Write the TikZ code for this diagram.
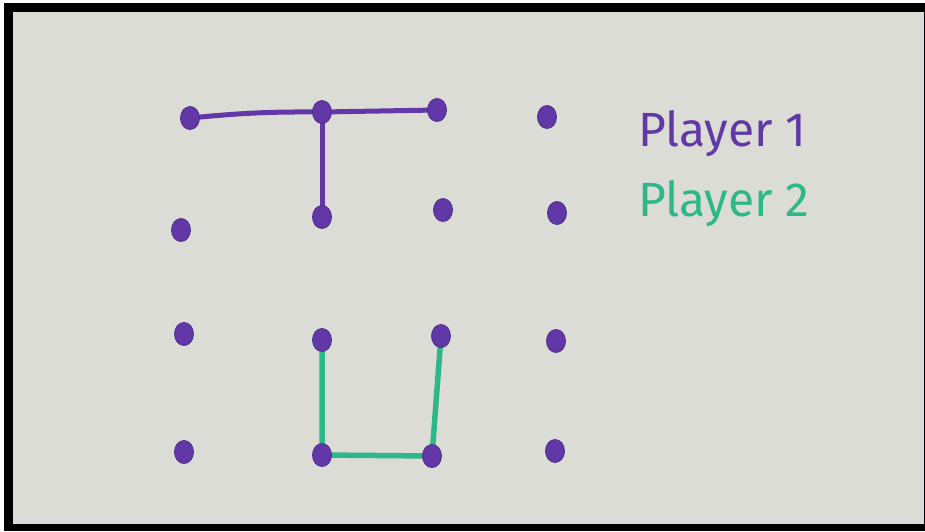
\documentclass[tikz,border=0pt]{standalone}
\usepackage{fontspec}
\setmainfont{Fira Sans}
\usetikzlibrary{shapes.geometric}
\definecolor{board}{HTML}{DCDCD6}
\definecolor{pur}{HTML}{6237A8}
\definecolor{grn}{HTML}{2DB88A}
\tikzset{
  dot/.style={ellipse, fill=pur, draw=pur!80!black, line width=0.8pt, minimum width=19pt, minimum height=23pt, inner sep=0pt},
  p1line/.style={pur, line width=5pt, line cap=round},
  p2line/.style={grn, line width=5.5pt, line cap=round},
  lbl/.style={anchor=west, font=\fontsize{48}{50}\selectfont, inner sep=0pt}
}
\begin{document}
\begin{tikzpicture}[x=1pt,y=-1pt]
\useasboundingbox (0,0) rectangle (925,531);
\fill[white] (0,0) rectangle (925,531);
\fill[black] (4,3) rectangle (925,531);
\fill[board] (13,12) rectangle (924,524);
% lines (drawn first, dots on top)
\coordinate (a1) at (190,118); \coordinate (a2) at (322,112); \coordinate (a3) at (437,110);
\coordinate (b2) at (322,217);
\coordinate (c2) at (322,340); \coordinate (c3) at (441,336);
\coordinate (d2) at (322,455); \coordinate (d3) at (432,456);
\draw[p1line] (a1) to[bend left=3] (a2) -- (a3);
\draw[p1line] (a2) -- (b2);
\draw[p2line] (c2) -- (d2) -- (d3) -- (c3);
% dots
\node[dot] (n11) at (190,118) {};
\node[dot] (n12) at (322,112) {};
\node[dot] (n13) at (437,110) {};
\node[dot] (n14) at (547,117) {};
\node[dot] (n21) at (181,230) {};
\node[dot] (n22) at (322,217) {};
\node[dot] (n23) at (443,210) {};
\node[dot] (n24) at (557,213) {};
\node[dot] (n31) at (184,334) {};
\node[dot] (n32) at (322,340) {};
\node[dot] (n33) at (441,336) {};
\node[dot] (n34) at (556,341) {};
\node[dot] (n41) at (184,452) {};
\node[dot] (n42) at (322,455) {};
\node[dot] (n43) at (432,456) {};
\node[dot] (n44) at (555,451) {};
% labels
\node[lbl, text=pur] (l1) at (638,134) {Player 1};
\node[lbl, text=grn] (l2) at (638,204) {Player 2};
\end{tikzpicture}
\end{document}
